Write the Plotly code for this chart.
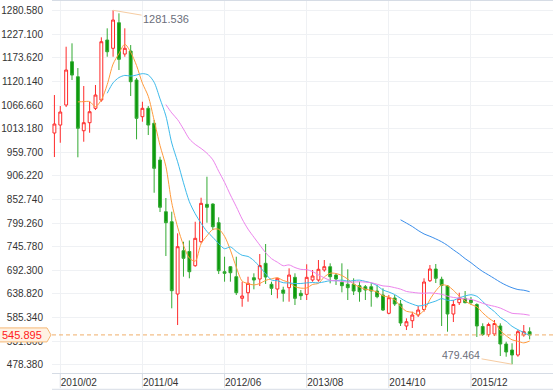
import pandas as pd
import plotly.graph_objects as go

# ---- data ----
months = list(pd.period_range("2010-01", periods=82, freq="M").strftime("%Y/%m"))

open_ = [1003.4, 1021.5, 1066.9, 1165.0, 1131.0, 1008.6, 1026.8, 1059.4, 1078.2, 1214.2,
         1195.4, 1253.4, 1182.4, 1189.2, 1123.5, 1040.4, 1059.4, 1025.4, 942.2, 825.1,
         802.4, 638.6, 736.7, 735.0, 702.7, 757.1, 841.9, 842.5, 800.2, 689.1,
         700.5, 677.8, 628.9, 641.5, 675.5, 672.6, 708.2, 660.6, 649.9, 647.7,
         652.9, 676.4, 640.2, 637.9, 670.3, 670.3, 693.0, 700.5, 681.6, 665.1,
         660.6, 660.6, 657.4, 655.1, 655.1, 645.4, 636.3, 594.9, 629.5, 615.9,
         566.1, 578.1, 591.0, 603.5, 668.7, 695.2, 671.9, 656.7, 593.3, 618.9,
         628.8, 625.0, 614.8, 565.0, 546.8, 548.0, 566.1, 525.3, 511.7, 500.4,
         545.7, 553.2]
high = [1089.5, 1064.6, 1199.0, 1206.7, 1150.7, 1109.9, 1074.3, 1112.2, 1220.3, 1240.7,
        1281.536, 1274.7, 1240.7, 1202.8, 1128.1, 1074.3, 1064.6, 1032.9, 949.7, 856.1,
        825.1, 776.1, 757.1, 760.0, 802.4, 856.8, 904.4, 844.1, 812.4, 723.1,
        702.0, 723.1, 666.5, 677.8, 685.5, 729.2, 751.9, 666.5, 675.5, 655.1,
        696.8, 685.5, 647.7, 705.9, 693.0, 715.6, 715.6, 708.2, 685.5, 708.2,
        694.6, 674.2, 666.5, 659.0, 662.8, 659.0, 651.5, 636.3, 636.3, 625.0,
        583.5, 598.5, 611.4, 674.2, 704.3, 706.6, 677.8, 659.0, 625.0, 641.5,
        645.4, 631.8, 617.5, 572.2, 573.6, 579.7, 572.2, 530.5, 526.9, 557.0,
        568.3, 563.1]
low = [949.0, 981.4, 1062.3, 1123.5, 948.4, 983.7, 1004.1, 1055.5, 1074.3, 1176.3,
       1176.3, 1146.2, 1176.3, 1087.3, 989.1, 1029.0, 998.9, 868.1, 824.4, 724.7,
       606.2, 568.3, 677.8, 674.2, 700.5, 753.5, 800.2, 783.6, 683.9, 666.5,
       666.5, 636.3, 609.8, 621.2, 649.2, 656.7, 661.3, 636.3, 628.8, 621.2,
       621.2, 613.7, 625.0, 625.0, 666.5, 666.5, 689.1, 662.8, 659.0, 642.4,
       625.0, 636.3, 621.2, 625.0, 609.8, 628.9, 600.1, 592.6, 611.4, 566.1,
       557.0, 561.6, 586.5, 598.5, 665.8, 663.5, 566.1, 553.2, 575.1, 613.7,
       617.5, 613.7, 541.2, 543.4, 541.8, 543.4, 498.1, 496.5, 479.464, 496.5,
       541.8, 535.9]
close = [1023.8, 1051.0, 1146.2, 1134.8, 1014.1, 1026.8, 1051.7, 1089.5, 1210.3, 1187.6,
         1259.5, 1170.4, 1195.4, 1119.7, 1036.7, 1059.4, 1021.5, 923.4, 835.1, 800.2,
         646.1, 745.8, 719.5, 689.1, 764.8, 844.1, 835.1, 791.1, 691.4, 685.5,
         686.8, 641.5, 634.1, 662.8, 670.3, 703.2, 677.1, 651.5, 674.2, 640.2,
         681.6, 628.8, 634.7, 676.4, 679.4, 694.6, 700.5, 677.8, 672.6, 657.4,
         652.9, 645.4, 643.8, 647.7, 645.4, 632.5, 602.3, 630.2, 615.9, 572.9,
         575.8, 591.0, 602.3, 665.8, 695.2, 674.2, 657.9, 593.3, 614.8, 628.8,
         618.9, 619.3, 566.1, 546.8, 569.5, 571.7, 525.3, 507.2, 500.4, 553.2,
         553.2, 545.895]

x_tick_labels = ["2010/02", "2011/04", "2012/06", "2013/08", "2014/10", "2015/12"]
y_tick_values = [478.380, 531.860, 585.340, 638.820, 692.300, 745.780, 799.260, 852.740,
                 906.220, 959.700, 1013.180, 1066.660, 1120.140, 1173.620, 1227.100, 1280.580]
ma_periods = [5, 10, 20, 60]
ma_colors = ["#FF9B3D", "#3DBAEB", "#EC84EC", "#3A8EEB"]

max_value = 1281.536
max_label_month = months[10]
min_value = 479.464
min_label_month = months[78]
last_price = 545.895

Y_RANGE = [459.6, 1302.6]
GRID = "#EFF1F4"
AXIS_LINE = "#D6DCE5"

fig = go.Figure()
fig.add_trace(go.Candlestick(
    x=months, open=open_, high=high, low=low, close=close,
    increasing=dict(line=dict(color="#FF2A2A", width=1), fillcolor="#FFFFFF"),
    decreasing=dict(line=dict(color="#33AA33", width=1), fillcolor="#0C9A0C"),
    whiskerwidth=0, showlegend=False, hoverinfo="skip",
))

close_s = pd.Series(close)
for n, col in zip(ma_periods, ma_colors):
    fig.add_trace(go.Scatter(
        x=months, y=close_s.rolling(n).mean(), mode="lines",
        line=dict(color=col, width=1, shape="spline", smoothing=0.8),
        showlegend=False, hoverinfo="skip",
    ))

shapes = []
# dashed last-price line
shapes.append(dict(type="line", xref="paper", x0=0, x1=1, yref="y", y0=last_price, y1=last_price,
                   line=dict(color="#F0AE6A", width=1, dash="4px,3px"), layer="above"))
# bottom line of the x label band
shapes.append(dict(type="line", xref="paper", x0=0, x1=1, yref="paper", y0=-0.0438, y1=-0.0438,
                   line=dict(color=AXIS_LINE, width=1)))
# tick marks inside the x label band
for t in x_tick_labels:
    shapes.append(dict(type="line", xref="x", x0=t, x1=t, yref="paper", y0=0, y1=-0.04,
                       line=dict(color=AXIS_LINE, width=1)))
# last-price tag (pentagon)
frac = (last_price - Y_RANGE[0]) / (Y_RANGE[1] - Y_RANGE[0])
shapes.append(dict(type="path", xref="paper", yref="paper", xsizemode="pixel", ysizemode="pixel",
                   xanchor=0, yanchor=frac,
                   path="M -53,7 L -5,7 L -1,0 L -5,-7 L -53,-7 Z",
                   fillcolor="#FFF2E3", line=dict(color="#F5B775", width=1), layer="above"))

annotations = [
    dict(x=max_label_month, y=max_value, xref="x", yref="y", text=f"{max_value:.3f}",
         showarrow=True, arrowhead=0, arrowwidth=1, arrowcolor="#F6CCA2", standoff=0,
         ax=53, ay=9, font=dict(size=11, color="#6B6E7A")),
    dict(x=min_label_month, y=min_value, xref="x", yref="y", text=f"{min_value:.3f}",
         showarrow=True, arrowhead=0, arrowwidth=1, arrowcolor="#F6CCA2", standoff=0,
         ax=-51, ay=-9, font=dict(size=10.5, color="#6B6E7A")),
    dict(x=0, y=last_price, xref="paper", yref="y", text=f"{last_price:.3f}",
         xanchor="right", xshift=-8, showarrow=False, font=dict(size=11, color="#FF2020")),
]

fig.update_layout(
    width=554, height=390,
    margin=dict(l=52, r=1, t=1, b=17),
    paper_bgcolor="white", plot_bgcolor="white",
    font=dict(family="Liberation Sans, Arial, sans-serif", size=10, color="#333333"),
    showlegend=False, dragmode=False,
    shapes=shapes, annotations=annotations,
    xaxis=dict(
        type="category", range=[-0.41, 84.98],
        rangeslider=dict(visible=False),
        tickmode="array", tickvals=x_tick_labels, ticktext=x_tick_labels,
        ticks="", ticklen=0, ticklabelposition="outside right",
        showgrid=True, gridcolor=GRID, gridwidth=1,
        showline=True, linecolor=AXIS_LINE, linewidth=1, mirror=True,
        zeroline=False, fixedrange=True,
        tickfont=dict(size=10, color="#333333"),
    ),
    yaxis=dict(
        range=Y_RANGE,
        tickmode="array", tickvals=y_tick_values,
        ticktext=[f"{v:.3f}" for v in y_tick_values],
        ticks="outside", ticklen=6, tickcolor="rgba(0,0,0,0)",
        showgrid=True, gridcolor=GRID, gridwidth=1,
        showline=False, zeroline=False, fixedrange=True,
        tickfont=dict(size=10, color="#333333"),
    ),
)

fig.write_html(
    "out.html",
    config={"displayModeBar": False, "staticPlot": True},
    post_script="document.body.style.margin='0';document.body.style.overflow='hidden';",
)
